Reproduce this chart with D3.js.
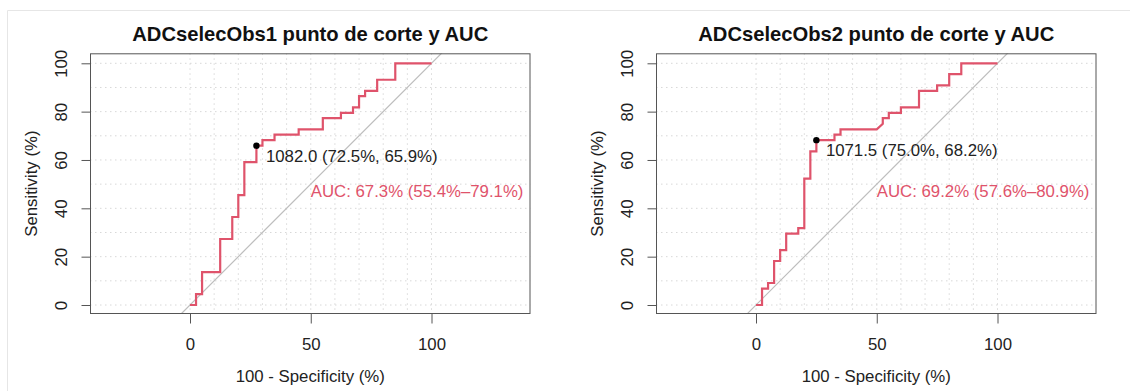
<!DOCTYPE html>
<html>
<head>
<meta charset="utf-8">
<script src="https://cdn.jsdelivr.net/npm/d3@7"></script>
<style>
  html, body { margin: 0; padding: 0; background: #ffffff; }
  svg { display: block; font-family: "Liberation Sans", Arial, Helvetica, sans-serif; }
</style>
</head>
<body>
<svg id="chart" width="1130" height="391"></svg>
<script>
// ROC curves of two observers: 100 - specificity (%) vs sensitivity (%)
const panelTitles = ["ADCselecObs1 punto de corte y AUC", "ADCselecObs2 punto de corte y AUC"];

const fpr1 = [0, 2.5, 2.5, 5, 5, 12.5, 12.5, 17.5, 17.5, 20, 20, 22.5, 22.5, 27.5, 27.5, 30, 30, 35, 35,
  45, 45, 55, 55, 62.5, 62.5, 67.5, 67.5, 70, 70, 72.5, 72.5, 77.5, 77.5, 85, 85, 100];
const sens1 = [0, 0, 4.5, 4.5, 13.6, 13.6, 27.3, 27.3, 36.4, 36.4, 45.5, 45.5, 59.1, 59.1, 65.9, 65.9, 68.2, 68.2, 70.5,
  70.5, 72.7, 72.7, 77.3, 77.3, 79.5, 79.5, 81.8, 81.8, 86.4, 86.4, 88.6, 88.6, 93.2, 93.2, 100, 100];

const fpr2 = [0, 2.5, 2.5, 5, 5, 7.5, 7.5, 10, 10, 12.5, 12.5, 17.5, 17.5, 20, 20, 22.5, 22.5, 25, 25,
  32.5, 32.5, 35, 35, 50, 52.5, 52.5, 55, 55, 60, 60, 67.5, 67.5, 75, 75, 80, 80, 85, 85, 100];
const sens2 = [0, 0, 6.8, 6.8, 9.1, 9.1, 18.2, 18.2, 22.7, 22.7, 29.5, 29.5, 31.8, 31.8, 52.3, 52.3, 63.6, 63.6, 68.2,
  68.2, 70.5, 70.5, 72.7, 72.7, 75.0, 77.3, 77.3, 79.5, 79.5, 81.8, 81.8, 88.6, 88.6, 90.9, 90.9, 95.5, 95.5, 100, 100];

// best threshold and AUC with its confidence interval
const cutValues = [1082.0, 1071.5];
const cutSpecificity = [72.5, 75.0];
const cutSensitivity = [65.9, 68.2];
const aucValues = [67.3, 69.2];
const aucLower = [55.4, 57.6];
const aucUpper = [79.1, 80.9];

const xTicks = [0, 50, 100];
const yTicks = [0, 20, 40, 60, 80, 100];
const gridSteps = [0, 10, 20, 30, 40, 50, 60, 70, 80, 90, 100];

const curves = [
  { fpr: fpr1, sens: sens1 },
  { fpr: fpr2, sens: sens2 }
];

const svg = d3.select("#chart");
const RED = "#DF536B";
const FONT = 16.8;

// thin frame along the top and left edges
svg.append("line").attr("x1", 7.5).attr("x2", 1130).attr("y1", 10.5).attr("y2", 10.5)
  .attr("stroke", "#e6e6e6").attr("stroke-width", 1);
svg.append("line").attr("x1", 7.5).attr("x2", 7.5).attr("y1", 10.5).attr("y2", 391)
  .attr("stroke", "#e6e6e6").attr("stroke-width", 1);

const boxW = 440.5, boxTop = 53.3, boxBottom = 314;

panelTitles.forEach((title, i) => {
  const boxLeft = 90 + i * 566;
  const x = d3.scaleLinear().domain([0, 100]).range([boxLeft + 100, boxLeft + 341.5]);
  const y = d3.scaleLinear().domain([0, 100]).range([305, 63.3]);

  const g = svg.append("g");
  const clipId = "clip" + i;
  svg.append("defs").append("clipPath").attr("id", clipId)
    .append("rect").attr("x", boxLeft).attr("y", boxTop).attr("width", boxW).attr("height", boxBottom - boxTop);

  const inner = g.append("g").attr("clip-path", `url(#${clipId})`);

  // dotted grid
  inner.selectAll(".gv").data(gridSteps).join("line")
    .attr("x1", d => x(d)).attr("x2", d => x(d))
    .attr("y1", boxTop).attr("y2", boxBottom)
    .attr("stroke", "#d8d8d8").attr("stroke-width", 1).attr("stroke-dasharray", "1.5,3.5");
  inner.selectAll(".gh").data(gridSteps).join("line")
    .attr("x1", boxLeft).attr("x2", boxLeft + boxW)
    .attr("y1", d => y(d)).attr("y2", d => y(d))
    .attr("stroke", "#d8d8d8").attr("stroke-width", 1).attr("stroke-dasharray", "1.5,3.5");

  // identity diagonal
  inner.append("line")
    .attr("x1", x(-60)).attr("y1", y(-60)).attr("x2", x(160)).attr("y2", y(160))
    .attr("stroke", "#bdbdbd").attr("stroke-width", 1.2);

  // ROC curve
  const c = curves[i];
  const pts = c.fpr.map((f, k) => [f, c.sens[k]]);
  inner.append("path")
    .attr("d", d3.line().x(d => x(d[0])).y(d => y(d[1]))(pts))
    .attr("fill", "none").attr("stroke", RED).attr("stroke-width", 2.2)
    .attr("stroke-linejoin", "miter");

  // plot box
  g.append("rect").attr("x", boxLeft + 0.5).attr("y", boxTop + 0.5)
    .attr("width", boxW - 1).attr("height", boxBottom - boxTop - 1)
    .attr("fill", "none").attr("stroke", "#555").attr("stroke-width", 1);

  // axes
  const xAxis = d3.axisBottom(x).tickValues(xTicks).tickSize(10).tickPadding(15).tickFormat(d3.format("d"));
  const gx = g.append("g").attr("transform", `translate(0,${boxBottom - 0.5})`).call(xAxis);
  gx.select(".domain").attr("stroke", "#555").attr("d", `M${x(0)},0H${x(100)}`);
  gx.selectAll(".tick line").attr("stroke", "#555");
  gx.selectAll(".tick text").attr("font-size", FONT).attr("fill", "#222")
    .attr("font-family", "Liberation Sans, Arial, sans-serif");

  const yAxis = d3.axisLeft(y).tickValues(yTicks).tickSize(9).tickFormat(d3.format("d"));
  const gy = g.append("g").attr("transform", `translate(${boxLeft + 0.5},0)`).call(yAxis);
  gy.select(".domain").attr("stroke", "#555").attr("d", `M0,${y(0)}V${y(100)}`);
  gy.selectAll(".tick line").attr("stroke", "#555");
  gy.selectAll(".tick text")
    .attr("font-size", FONT).attr("fill", "#222")
    .attr("font-family", "Liberation Sans, Arial, sans-serif")
    .attr("x", null).attr("dy", null)
    .attr("text-anchor", "middle")
    .attr("transform", "translate(-29.5,0) rotate(-90)")
    .attr("dominant-baseline", "central");

  // title and axis labels
  g.append("text").attr("x", boxLeft + boxW / 2).attr("y", 40.5)
    .attr("text-anchor", "middle").attr("font-weight", "bold").attr("font-size", 20.2)
    .attr("fill", "#111").text(title);
  g.append("text").attr("x", boxLeft + boxW / 2).attr("y", 382)
    .attr("text-anchor", "middle").attr("font-size", FONT).attr("fill", "#222")
    .text("100 - Specificity (%)");
  g.append("text")
    .attr("transform", `translate(${boxLeft - 59},${(boxTop + boxBottom) / 2}) rotate(-90)`)
    .attr("text-anchor", "middle").attr("dominant-baseline", "central")
    .attr("font-size", FONT).attr("fill", "#222").text("Sensitivity (%)");

  // best threshold point and label
  const px = x(100 - cutSpecificity[i]);
  const py = y(cutSensitivity[i]);
  g.append("circle").attr("cx", px).attr("cy", py).attr("r", 3.2).attr("fill", "#000");
  g.append("text").attr("x", px + 9.5).attr("y", py + 10.5)
    .attr("dominant-baseline", "central").attr("font-size", FONT).attr("fill", "#222")
    .text(`${cutValues[i].toFixed(1)} (${cutSpecificity[i].toFixed(1)}%, ${cutSensitivity[i].toFixed(1)}%)`);

  // AUC with confidence interval
  g.append("text").attr("x", x(50)).attr("y", y(50) + 7.5)
    .attr("dominant-baseline", "central").attr("font-size", FONT).attr("fill", RED)
    .text(`AUC: ${aucValues[i].toFixed(1)}% (${aucLower[i].toFixed(1)}%\u2013${aucUpper[i].toFixed(1)}%)`);
});
</script>
</body>
</html>
